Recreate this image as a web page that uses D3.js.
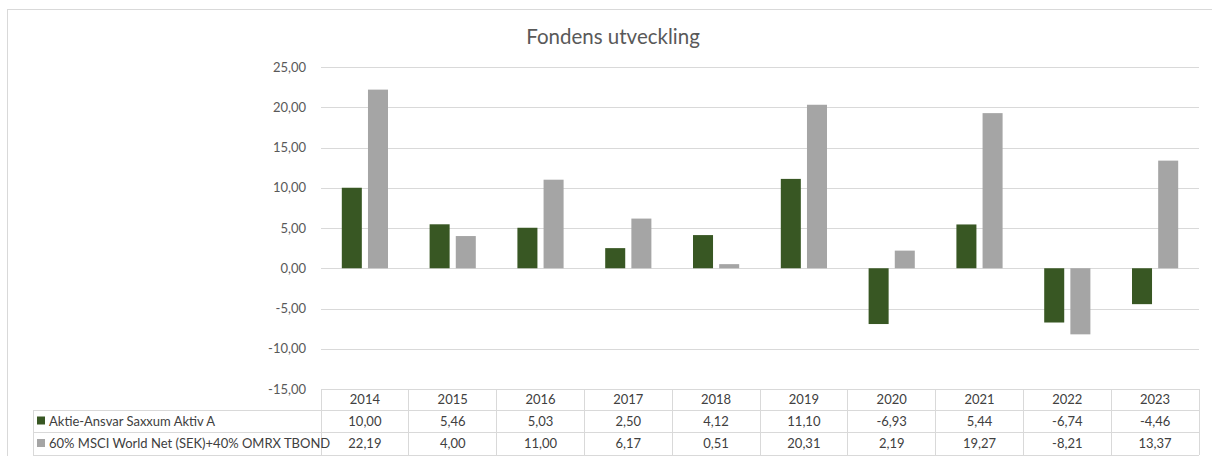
<!DOCTYPE html>
<html>
<head>
<meta charset="utf-8">
<script src="https://cdnjs.cloudflare.com/ajax/libs/d3/7.8.5/d3.min.js"></script>
<style>
  body { margin: 0; background: #fff; }
  svg text { font-family: Lato, "Open Sans", sans-serif; }
</style>
</head>
<body>
<div id="chart"></div>
<script>
// data
var years = ["2014", "2015", "2016", "2017", "2018", "2019", "2020", "2021", "2022", "2023"];
var fund = [10.00, 5.46, 5.03, 2.50, 4.12, 11.10, -6.93, 5.44, -6.74, -4.46];
var bench = [22.19, 4.00, 11.00, 6.17, 0.51, 20.31, 2.19, 19.27, -8.21, 13.37];
var seriesNames = ["Aktie-Ansvar Saxxum Aktiv A", "60% MSCI World Net (SEK)+40% OMRX TBOND"];
var seriesColors = ["#385723", "#a5a5a5"];
var yTicks = [25, 20, 15, 10, 5, 0, -5, -10, -15];

var W = 1212, H = 456;
var plotL = 321, plotR = 1199, plotT = 67, plotB = 389;

var svg = d3.select("#chart").append("svg")
    .attr("width", W)
    .attr("height", H);

// chart frame
svg.append("rect")
    .attr("x", 7.5).attr("y", 9.5)
    .attr("width", W + 10).attr("height", H + 10)
    .attr("fill", "none")
    .attr("stroke", "#d9d9d9");

svg.append("text")
    .attr("x", 613).attr("y", 44)
    .attr("text-anchor", "middle")
    .attr("font-size", 20.5)
    .attr("fill", "#595959")
    .text("Fondens utveckling");

var x = d3.scaleBand().domain(years).range([plotL, plotR]);
var y = d3.scaleLinear().domain([-15, 25]).range([plotB, plotT]);

var fmt = function(v) { return d3.format(".2f")(v).replace(".", ",").replace("−", "-"); };

// gridlines + y labels
svg.append("g").selectAll("line")
    .data(yTicks.filter(function(d) { return d > -15; }))
    .join("line")
    .attr("x1", plotL).attr("x2", plotR)
    .attr("y1", function(d) { return Math.round(y(d)) + 0.5; })
    .attr("y2", function(d) { return Math.round(y(d)) + 0.5; })
    .attr("stroke", "#d9d9d9");

svg.append("g").selectAll("text")
    .data(yTicks)
    .join("text")
    .attr("x", 306)
    .attr("y", function(d) { return y(d) + 4.5; })
    .attr("text-anchor", "end")
    .attr("font-size", 13)
    .attr("fill", "#595959")
    .text(fmt);

// bars
var bw = x.bandwidth();
var barW = bw * 0.228, gap = bw * 0.07;
[fund, bench].forEach(function(vals, si) {
    svg.append("g").selectAll("rect")
        .data(vals)
        .join("rect")
        .attr("x", function(d, i) {
            return x(years[i]) + bw / 2 - barW - gap / 2 + si * (barW + gap);
        })
        .attr("y", function(d) { return y(Math.max(0, d)); })
        .attr("width", barW)
        .attr("height", function(d) { return Math.abs(y(d) - y(0)); })
        .attr("fill", seriesColors[si]);
});

// data table
var rowTops = [389, 410, 432, 455];
var tableLeft = 33;
var tg = svg.append("g").attr("stroke", "#d9d9d9").attr("shape-rendering", "crispEdges");
tg.append("line").attr("x1", plotL).attr("x2", plotR).attr("y1", rowTops[0]).attr("y2", rowTops[0]);
[1, 2, 3].forEach(function(r) {
    tg.append("line").attr("x1", tableLeft).attr("x2", plotR).attr("y1", rowTops[r]).attr("y2", rowTops[r]);
});
years.concat(["end"]).forEach(function(d, i) {
    var xx = i < years.length ? x(d) : plotR;
    tg.append("line").attr("x1", xx).attr("x2", xx).attr("y1", rowTops[0]).attr("y2", rowTops[3]);
});
tg.append("line").attr("x1", tableLeft).attr("x2", tableLeft).attr("y1", rowTops[1]).attr("y2", rowTops[3]);

var cellText = svg.append("g")
    .attr("font-size", 13)
    .attr("fill", "#404040")
    .attr("text-anchor", "middle");

cellText.selectAll(".yr").data(years).join("text")
    .attr("x", function(d) { return x(d) + bw / 2; })
    .attr("y", 404)
    .text(function(d) { return d; });

[fund, bench].forEach(function(vals, si) {
    var ty = (rowTops[si + 1] + rowTops[si + 2]) / 2 + 4.5;
    cellText.append("g").selectAll("text").data(vals).join("text")
        .attr("x", function(d, i) { return x(years[i]) + bw / 2; })
        .attr("y", ty)
        .text(fmt);

    svg.append("rect")
        .attr("x", 37).attr("y", ty - 9)
        .attr("width", 8).attr("height", 8)
        .attr("fill", seriesColors[si]);
    svg.append("text")
        .attr("x", 49).attr("y", ty)
        .attr("font-size", 13)
        .attr("fill", "#404040")
        .text(seriesNames[si]);
});
</script>
</body>
</html>
